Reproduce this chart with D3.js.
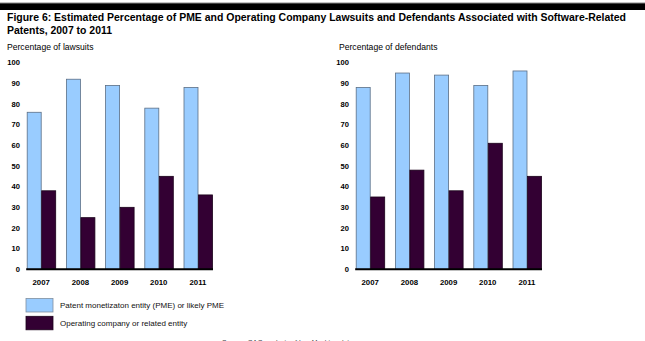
<!DOCTYPE html>
<html>
<head>
<meta charset="utf-8">
<script src="https://cdn.jsdelivr.net/npm/d3@7"></script>
<style>
  body { margin: 0; background: #fff; }
  svg { display: block; font-family: "Liberation Sans", Arial, sans-serif; }
</style>
</head>
<body>
<div id="chart"></div>
<script>
// Years and series
const years = ["2007", "2008", "2009", "2010", "2011"];
const seriesNames = ["Patent monetizaton entity (PME) or likely PME", "Operating company or related entity"];
const lawsuitsPME = [76, 92, 89, 78, 88];
const lawsuitsOperating = [38, 25, 30, 45, 36];
const defendantsPME = [88, 95, 94, 89, 96];
const defendantsOperating = [35, 48, 38, 61, 45];
const yTicks = [0, 10, 20, 30, 40, 50, 60, 70, 80, 90, 100];

const colors = ["#99ccff", "#330033"];
const strokes = ["#5b6f86", "#1a001a"];

const width = 645, height = 341;

const svg = d3.select("#chart")
    .append("svg")
    .attr("width", width)
    .attr("height", height);

// Black band across the top
svg.append("rect")
    .attr("x", 0).attr("y", 3)
    .attr("width", width).attr("height", 7)
    .attr("fill", "#000");
svg.append("line")
    .attr("x1", 0).attr("x2", width)
    .attr("y1", 3).attr("y2", 3)
    .attr("stroke", "#888").attr("stroke-width", 1);

// Title, two lines
svg.append("text")
    .attr("x", 7).attr("y", 20.5)
    .attr("textLength", 619)
    .attr("lengthAdjust", "spacingAndGlyphs")
    .style("font-size", "10.6px")
    .style("font-weight", "bold")
    .text("Figure 6: Estimated Percentage of PME and Operating Company Lawsuits and Defendants Associated with Software-Related");
svg.append("text")
    .attr("x", 7).attr("y", 33.8)
    .attr("textLength", 105)
    .attr("lengthAdjust", "spacingAndGlyphs")
    .style("font-size", "10.6px")
    .style("font-weight", "bold")
    .text("Patents, 2007 to 2011");

const y = d3.scaleLinear()
    .domain([0, 100])
    .range([269.3, 62.7]);

function drawPanel(label, pme, operating, labelX, tickX, x0) {
    const data = years.map((yr, i) => ({ year: yr, values: [pme[i], operating[i]] }));

    const x = d3.scaleBand()
        .domain(years)
        .range([x0, x0 + 196])
        .paddingInner(0.26)
        .paddingOuter(0.13);

    const xs = d3.scaleBand()
        .domain([0, 1])
        .range([0, x.bandwidth()]);

    const g = svg.append("g");

    // Panel label
    g.append("text")
        .attr("x", labelX).attr("y", 50)
        .style("font-size", "8.6px")
        .style("fill", "#000")
        .text(label);

    // Y tick labels (no axis line)
    g.selectAll(".ytick")
        .data(yTicks)
        .enter()
        .append("text")
        .attr("class", "ytick")
        .attr("x", tickX)
        .attr("y", d => y(d))
        .attr("dy", "0.35em")
        .attr("text-anchor", "end")
        .style("font-size", "7.6px")
        .style("font-weight", "bold")
        .text(d => d);

    // Bars
    const groups = g.selectAll(".grp")
        .data(data)
        .enter()
        .append("g")
        .attr("transform", d => `translate(${x(d.year)},0)`);

    groups.selectAll("rect")
        .data(d => d.values.map((v, k) => ({ k, v })))
        .enter()
        .append("rect")
        .attr("x", d => xs(d.k) + 0.5)
        .attr("y", d => y(d.v))
        .attr("width", xs.bandwidth() - 0.5)
        .attr("height", d => y(0) - y(d.v))
        .attr("fill", d => colors[d.k])
        .attr("stroke", d => strokes[d.k])
        .attr("stroke-width", 0.8);

    // Baseline
    g.append("line")
        .attr("x1", x(years[0]) - 0.5)
        .attr("x2", x(years[years.length - 1]) + x.bandwidth() + 0.5)
        .attr("y1", y(0)).attr("y2", y(0))
        .attr("stroke", "#000")
        .attr("stroke-width", 2);

    // Year labels
    g.selectAll(".year")
        .data(years)
        .enter()
        .append("text")
        .attr("x", d => x(d) + x.bandwidth() / 2)
        .attr("y", 284.5)
        .attr("text-anchor", "middle")
        .style("font-size", "7.8px")
        .style("font-weight", "bold")
        .text(d => d);
}

drawPanel("Percentage of lawsuits", lawsuitsPME, lawsuitsOperating, 7, 20, 21.6);
drawPanel("Percentage of defendants", defendantsPME, defendantsOperating, 339, 349, 350.6);

// Legend
const legend = svg.append("g").attr("transform", "translate(26,298.5)");
seriesNames.forEach((name, i) => {
    legend.append("rect")
        .attr("x", 0)
        .attr("y", i * 17.8)
        .attr("width", 27)
        .attr("height", 13.5)
        .attr("fill", colors[i])
        .attr("stroke", i === 0 ? "#7f8fa0" : strokes[i])
        .attr("stroke-width", 0.8);
    legend.append("text")
        .attr("x", 34)
        .attr("y", i * 17.8 + 7)
        .attr("dy", "0.35em")
        .style("font-size", "8px")
        .style("fill", "#111")
        .text(name);
});

// Source note along the bottom edge
svg.append("text")
    .attr("x", 222).attr("y", 344.5)
    .attr("textLength", 131)
    .attr("lengthAdjust", "spacingAndGlyphs")
    .style("font-size", "7.5px")
    .style("fill", "#444")
    .text("Source: GAO analysis of Lex Machina data");
</script>
</body>
</html>
